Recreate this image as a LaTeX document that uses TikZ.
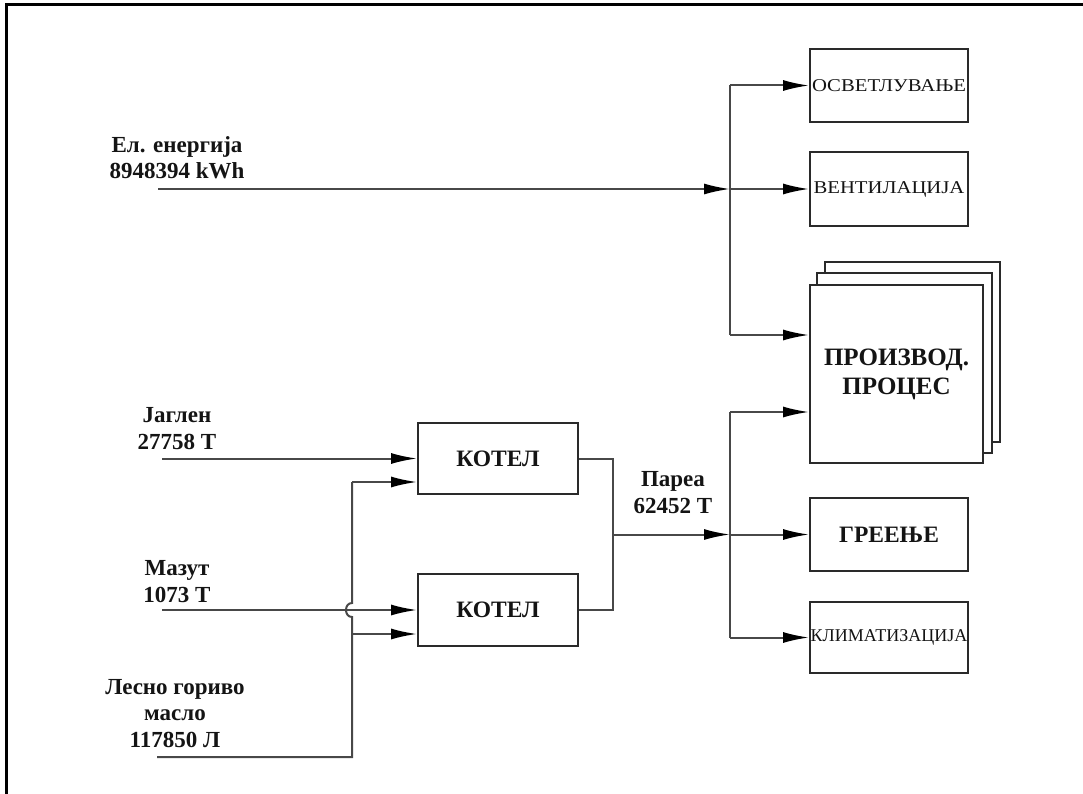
\documentclass[tikz,border=0pt]{standalone}
\usepackage{fontspec}
\setmainfont{Liberation Serif}
\usetikzlibrary{arrows.meta,calc,backgrounds}
\definecolor{linegray}{HTML}{484848}
\definecolor{boxgray}{HTML}{2A2A2A}
\definecolor{inkblack}{HTML}{141414}
\newcommand{\wide}[1]{\scalebox{1.15}[1]{#1}}
\begin{document}
\begin{tikzpicture}[x=1pt,y=-1pt,
  box/.style={draw=boxgray,line width=1.9pt,fill=white,inner sep=0pt,
    minimum width=158pt,minimum height=73pt,text=inkblack},
  smallcap/.style={font=\fontsize{18}{21}\selectfont},
  boldcap/.style={font=\bfseries\fontsize{23.5}{28}\selectfont},
  flow/.style={draw=linegray,line width=2pt},
  feed/.style={flow,-{Latex[length=26pt,width=11pt,color=black]}},
  lbl/.style={align=center,text=inkblack,inner sep=0pt,
    font=\bfseries\fontsize{23}{26.5}\selectfont}]

% page area and frame
\useasboundingbox (0,0) rectangle (1083,794);
\begin{scope}[on background layer]
  \fill[white] (0,0) rectangle (1083,794);
\end{scope}
\draw[line width=3pt,black] (6,794) -- (6,5) -- (1083,5);

% consumer blocks
\node[box,smallcap] (osv) at (889,85.5) {\wide{ОСВЕТЛУВАЊЕ}};
\node[box,smallcap,minimum height=74pt] (vent) at (889,189) {\wide{ВЕНТИЛАЦИЈА}};
\node[box,minimum width=173pt,minimum height=178pt,align=center,
  font=\bfseries\fontsize{25}{29}\selectfont] (prod) at (896.5,374)
  {ПРОИЗВОД.\\ПРОЦЕС};
\begin{scope}[on background layer]
  \draw[draw=boxgray,line width=1.9pt,fill=white]
    ($(prod.south west)+(16,-22)$) rectangle ($(prod.north east)+(16,-22)$);
  \draw[draw=boxgray,line width=1.9pt,fill=white]
    ($(prod.south west)+(8,-11)$) rectangle ($(prod.north east)+(8,-11)$);
\end{scope}
\node[box,boldcap] (gre) at (889,534.5) {ГРЕЕЊЕ};
\node[box,smallcap,minimum height=71pt] (klim) at (889,637.5) {КЛИМАТИЗАЦИЈА};

% boilers
\node[box,boldcap,minimum width=160pt,minimum height=71pt] (kot1) at (498,458.5) {КОТЕЛ};
\node[box,boldcap,minimum width=160pt,minimum height=72pt] (kot2) at (498,610) {КОТЕЛ};

% input and flow labels
\node[lbl] (el) at (177,157.5) {Ел. енергија\\8948394 kWh};
\node[lbl] (jag) at (177,428.5) {Јаглен\\27758 Т};
\node[lbl] (maz) at (177,581.5) {Мазут\\1073 Т};
\node[lbl] (les) at (175,713.5) {Лесно гориво\\масло\\117850 Л};
\node[lbl] (par) at (673,492.5) {Пареа\\62452 Т};

% junction points
\coordinate (elstart) at (158,189);
\coordinate (ua) at (730,85.5);
\coordinate (ue) at (730,189);
\coordinate (ub) at (730,335);
\coordinate (jagstart) at (162,458.5);
\coordinate (mazstart) at (162,610);
\coordinate (lesstart) at (157,757);
\coordinate (fa) at (352,482);
\coordinate (fc) at (352,634);
\coordinate (fb) at (352,757);
\coordinate (sj) at (613,534.5);
\coordinate (lt) at (730,412);
\coordinate (lb) at (730,534.5);
\coordinate (lk) at (730,637.5);

% electricity distribution
\draw[flow] (ua) -- (ub);
\draw[feed] (ua) -- (osv.west);
\draw[feed] (elstart) -- (ue);
\draw[feed] (ue) -- (vent.west);
\draw[feed] (ub) -- (ub -| prod.west);

% fuel supply to boilers
\draw[feed] (jagstart) -- (kot1.west);
\draw[feed] (mazstart) -- (kot2.west);
\draw[flow] (lesstart) -- (fb) -- (352,617)
  .. controls (344,617) and (344,603) .. (352,603) -- (fa);
\draw[feed] (fa) -- (fa -| kot1.west);
\draw[feed] (fc) -- (fc -| kot2.west);

% steam collection and distribution
\draw[flow] (kot1.east) -| (sj) |- (kot2.east);
\draw[feed] (sj) -- (lb);
\draw[flow] (lt) -- (lk);
\draw[feed] (lt) -- (lt -| prod.west);
\draw[feed] (lb) -- (gre.west);
\draw[feed] (lk) -- (klim.west);
\end{tikzpicture}
\end{document}
